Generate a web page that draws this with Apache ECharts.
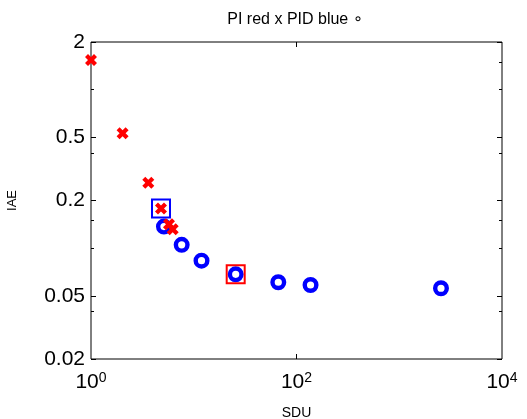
<!DOCTYPE html>
<html>
<head>
<meta charset="utf-8">
<script src="https://cdn.jsdelivr.net/npm/echarts@6/dist/echarts.min.js"></script>
<style>html,body{margin:0;padding:0;background:#fff}#c{width:527px;height:419px}</style>
</head>
<body>
<div id="c"></div>
<script>
// PI (red x)
const piSDU = [1, 2.03, 3.61, 4.8, 5.74, 6.24];
const piIAE = [1.54, 0.531, 0.259, 0.178, 0.1415, 0.1316];
// PID (blue o)
const pidSDU = [5.13, 7.63, 11.9, 25.6, 66.5, 137, 2548];
const pidIAE = [0.137, 0.105, 0.0834, 0.0684, 0.061, 0.0586, 0.0559];
// highlighted points (squares)
const blueSquare = [[4.8, 0.178]];
const redSquare = [[25.6, 0.0684]];
// ticks
const yMajorTicks = [0.02, 0.05, 0.2, 0.5, 2];
const yMinorTicks = [0.04, 0.1, 0.15, 0.4, 1, 1.5];
const xMajorTicks = [1, 100, 10000];

const FONT = "'Liberation Sans', Arial, 'DejaVu Sans', sans-serif";
const X_PATH = 'path://M2.5,0 L5,2.5 L7.5,0 L10,2.5 L7.5,5 L10,7.5 L7.5,10 L5,7.5 L2.5,10 L0,7.5 L2.5,5 L0,2.5 Z';
const RING_PATH = 'path://M0,8 A8,8 0 1,1 16,8 A8,8 0 1,1 0,8 Z M4.4,8 A3.6,3.6 0 1,0 11.6,8 A3.6,3.6 0 1,0 4.4,8 Z';

const chart = echarts.init(document.getElementById('c'), null, {renderer: 'canvas'});

function yAx(pos, ticks, len, labels) {
  return {
    type: 'log', logBase: 10, min: 0.02, max: 2, position: pos,
    axisLine: {show: false},
    splitLine: {show: false},
    axisTick: {show: true, inside: true, length: len, customValues: ticks, lineStyle: {color: '#000', width: 1}},
    axisLabel: labels ? {show: true, customValues: ticks, fontFamily: FONT, fontSize: 21, color: '#000', margin: 6,
      formatter: v => String(+v.toPrecision(3))} : {show: false},
    name: labels && pos === 'left' ? 'IAE' : '',
    nameLocation: 'middle', nameGap: 72, nameRotate: 90,
    nameTextStyle: {fontFamily: FONT, fontSize: 13, color: '#000'}
  };
}
function xAx(pos, labels) {
  return {
    type: 'log', logBase: 10, min: 1, max: 10000, position: pos,
    axisLine: {show: false}, splitLine: {show: false},
    axisTick: {show: true, inside: true, length: 5, customValues: [100], lineStyle: {color: '#000', width: 1}},
    axisLabel: labels ? {show: true, customValues: xMajorTicks, margin: 12, color: '#000',
      formatter: v => '{b|10}{s|' + Math.round(Math.log10(v)) + '}',
      rich: {b: {fontFamily: FONT, fontSize: 21, color: '#000', verticalAlign: 'bottom'},
             s: {fontFamily: FONT, fontSize: 14, color: '#000', verticalAlign: 'top', padding: [0,0,8,0]}}} : {show: false},
    name: labels ? 'SDU' : '', nameLocation: 'middle', nameGap: 47,
    nameTextStyle: {fontFamily: FONT, fontSize: 14, color: '#000'}
  };
}

chart.setOption({
  animation: false,
  backgroundColor: '#fff',
  title: {text: 'PI red x PID blue \u2218', left: 290, top: 7, textAlign: 'center',
    textStyle: {fontFamily: FONT, fontSize: 16, fontWeight: 'normal', color: '#000'}},
  grid: {left: 91, right: 25, top: 42, bottom: 60, outerBoundsMode: 'none', containLabel: false,
    show: true, borderColor: '#000', borderWidth: 1, backgroundColor: 'transparent'},
  xAxis: [xAx('bottom', true), xAx('top', false)],
  yAxis: [yAx('left', yMajorTicks, 5, true), yAx('left', yMinorTicks, 3, false),
          yAx('right', yMajorTicks, 5, false), yAx('right', yMinorTicks, 3, false)],
  series: [
    {type: 'scatter', name: 'PID', symbol: RING_PATH, symbolSize: 16,
     itemStyle: {color: '#0000ff', opacity: 1},
     data: pidSDU.map((x, i) => [x, pidIAE[i]])},
    {type: 'scatter', name: 'PI', symbol: X_PATH, symbolSize: 12,
     itemStyle: {color: '#ff0000', opacity: 1},
     data: piSDU.map((x, i) => [x, piIAE[i]])},
    {type: 'scatter', symbol: 'rect', symbolSize: 18,
     itemStyle: {color: 'transparent', borderColor: '#0000ff', borderWidth: 2, opacity: 1},
     data: blueSquare},
    {type: 'scatter', symbol: 'rect', symbolSize: 18,
     itemStyle: {color: 'transparent', borderColor: '#ff0000', borderWidth: 2, opacity: 1},
     data: redSquare}
  ]
});
</script>
</body>
</html>
